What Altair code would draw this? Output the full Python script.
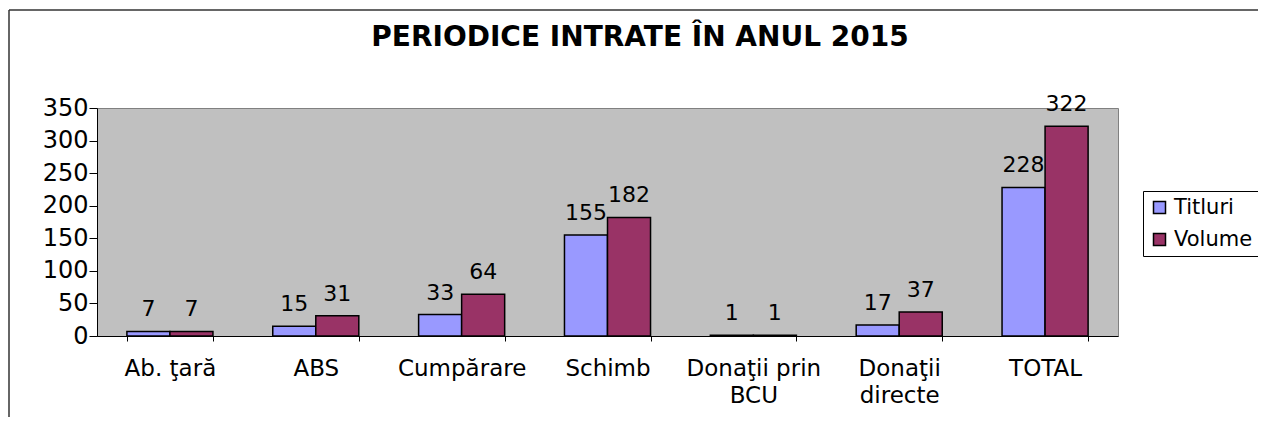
import altair as alt
import pandas as pd

title_text = "PERIODICE INTRATE ÎN ANUL 2015"
categories = ["Ab. ţară", "ABS", "Cumpărare", "Schimb", "Donaţii prin\nBCU", "Donaţii\ndirecte", "TOTAL"]
titluri = [7, 15, 33, 155, 1, 17, 228]
volume = [7, 31, 64, 182, 1, 37, 322]
series = ["Titluri", "Volume"]
colors = ["#9999FF", "#993366"]

rows = []
for c, t, v in zip(categories, titluri, volume):
    rows.append({"cat": c, "serie": "Titluri", "val": t})
    rows.append({"cat": c, "serie": "Volume", "val": v})
df = pd.DataFrame(rows)

FONT = "DejaVu Sans"

x = alt.X("cat:N", sort=categories, title=None,
          scale=alt.Scale(paddingInner=0.41, paddingOuter=0.205),
          axis=alt.Axis(labelAngle=0, labelFontSize=23, labelFont=FONT, labelColor="black",
                        labelExpr="split(datum.label, '\\n')", labelPadding=16, labelLineHeight=27,
                        tickBand="extent", tickColor="black", tickSize=5,
                        domainColor="black", labelBaseline="top"))
xo = alt.XOffset("serie:N", sort=series, scale=alt.Scale(paddingInner=0, paddingOuter=0))
y = alt.Y("val:Q", title=None,
          scale=alt.Scale(domain=[0, 350]),
          axis=alt.Axis(values=list(range(0, 351, 50)), grid=False, labelFontSize=24,
                        labelFont=FONT, labelColor="black", domainColor="black",
                        tickColor="black", tickSize=8, labelPadding=1, labelOverlap=False))

base = alt.Chart(df)

bars = base.mark_bar(stroke="black", strokeWidth=1.5).encode(
    x=x, xOffset=xo, y=y,
    color=alt.Color("serie:N", sort=series, scale=alt.Scale(domain=series, range=colors),
                    legend=alt.Legend(title=None, orient="none", legendX=1046, legendY=83,
                                      symbolType="square", symbolSize=144, symbolStrokeColor="black",
                                      symbolStrokeWidth=1.5, labelFontSize=21, labelFont=FONT,
                                      labelColor="black", strokeColor="black", padding=6,
                                      rowPadding=10, symbolOffset=0, labelOffset=4)),
)

labels = base.mark_text(dy=-22, fontSize=22, font=FONT, color="black").encode(
    x=x, xOffset=xo, y=y, text="val:Q"
)

one_df = pd.DataFrame({"t": [title_text]})
top_line = alt.Chart(one_df).mark_rule(color="#333333", strokeWidth=1.5).encode(
    x=alt.value(-88), x2=alt.value(1300), y=alt.value(-98)
)
left_line = alt.Chart(one_df).mark_rule(color="#333333", strokeWidth=1.5).encode(
    x=alt.value(-88), y=alt.value(-98), y2=alt.value(420)
)
title = alt.Chart(one_df).mark_text(fontSize=28, font=FONT, fontWeight="bold", color="black",
                                    baseline="middle", align="center").encode(
    x=alt.value(543), y=alt.value(-70), text="t:N"
)

chart = alt.layer(top_line, left_line, title, bars, labels).properties(
    width=1021, height=228,
    autosize=alt.AutoSizeParams(type="none"),
    padding={"left": 89, "top": 100, "right": 140, "bottom": 81},
).configure_view(fill="#C0C0C0", stroke="#808080", strokeWidth=1)

chart.save("out.html", embed_options={"renderer": "svg", "actions": False})
